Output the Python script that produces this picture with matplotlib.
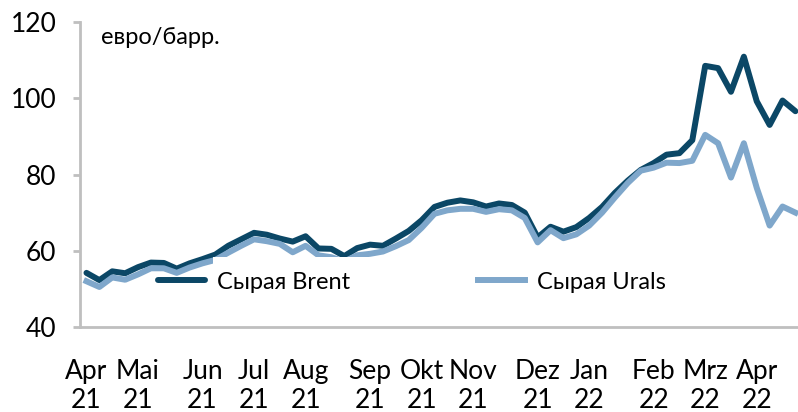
import matplotlib
matplotlib.use('Agg')
import matplotlib.pyplot as plt
from matplotlib.patches import Rectangle

# weekly prices, Apr 2021 - Apr 2022 (EUR per barrel)
brent = [54.2, 52.3, 54.6, 54.1, 55.7, 56.9, 56.8, 55.3, 56.7, 57.8,
         59.0, 61.3, 63.0, 64.7, 64.2, 63.2, 62.4, 63.8, 60.6, 60.5,
         58.6, 60.7, 61.6, 61.3, 63.2, 65.2, 68.0, 71.5, 72.6, 73.2,
         72.7, 71.6, 72.4, 72.0, 70.0, 63.5, 66.3, 65.0, 66.2, 68.6,
         71.5, 75.2, 78.4, 81.2, 83.0, 85.2, 85.6, 89.0, 108.5, 107.9,
         101.7, 110.9, 99.2, 93.0, 99.4, 96.6]
urals = [52.0, 50.5, 53.0, 52.4, 53.8, 55.4, 55.4, 54.2, 55.6, 56.7,
         57.6, 59.5, 61.3, 63.0, 62.5, 61.8, 59.6, 61.3, 58.8, 58.3,
         57.2, 58.8, 59.2, 59.8, 61.2, 62.8, 66.0, 69.7, 70.6, 71.0,
         71.0, 70.2, 70.9, 70.6, 68.6, 62.2, 65.4, 63.3, 64.3, 66.6,
         70.0, 74.0, 77.8, 81.0, 81.8, 83.1, 83.0, 83.6, 90.4, 88.2,
         79.2, 88.2, 76.5, 66.6, 71.6, 70.0]
tick_pos = [0, 4, 9, 13, 17, 22, 26, 30, 35, 39, 44, 48, 52]
tick_labels = ['Apr\n21', 'Mai\n21', 'Jun\n21', 'Jul\n21', 'Aug\n21', 'Sep\n21',
               'Okt\n21', 'Nov\n21', 'Dez\n21', 'Jan\n22', 'Feb\n22', 'Mrz\n22',
               'Apr\n22']

plt.rcParams['font.family'] = ['Lato', 'Open Sans', 'DejaVu Sans']

fig = plt.figure(figsize=(7.98, 4.12), dpi=100)
ax = fig.add_axes([0.1003, 0.2063, 0.8997, 0.7403])

weeks = range(len(brent))
ax.plot(weeks, brent, color='#0b4766', lw=4.3, solid_joinstyle='round',
        solid_capstyle='round', label='Сырая Brent', zorder=2)
ax.plot(weeks, urals, color='#7fa7cb', lw=4.3, label='Сырая Urals', zorder=3)

# white box behind the legend hides part of the lines, like in the original
ax.add_patch(Rectangle((0.185, 0.07), 0.685, 0.158, transform=ax.transAxes,
                       facecolor='white', edgecolor='none', zorder=4))

leg = ax.legend(loc='center left', bbox_to_anchor=(0.1086, 0.1475), ncol=2,
                frameon=False, fontsize=17, handlelength=2.0,
                handletextpad=0.5, columnspacing=5.4, borderpad=0,
                borderaxespad=0)
leg.set_zorder(5)

ax.set_xlim(-0.5, 55.2)
ax.set_ylim(40, 120)
ax.set_yticks([40, 60, 80, 100, 120])
ax.set_xticks(tick_pos)
ax.set_xticklabels(tick_labels, linespacing=1.2)

for s in ['top', 'right']:
    ax.spines[s].set_visible(False)
for s in ['left', 'bottom']:
    ax.spines[s].set_color('#bfbfbf')
    ax.spines[s].set_linewidth(2)
ax.tick_params(axis='y', length=5, width=2, color='#bfbfbf', pad=12,
               labelsize=19)
ax.tick_params(axis='x', length=0, pad=23, labelsize=19)

ax.text(0.029, 0.948, 'евро/барр.', transform=ax.transAxes, fontsize=17,
        va='center', ha='left')

fig.savefig('out.png', dpi=100)
